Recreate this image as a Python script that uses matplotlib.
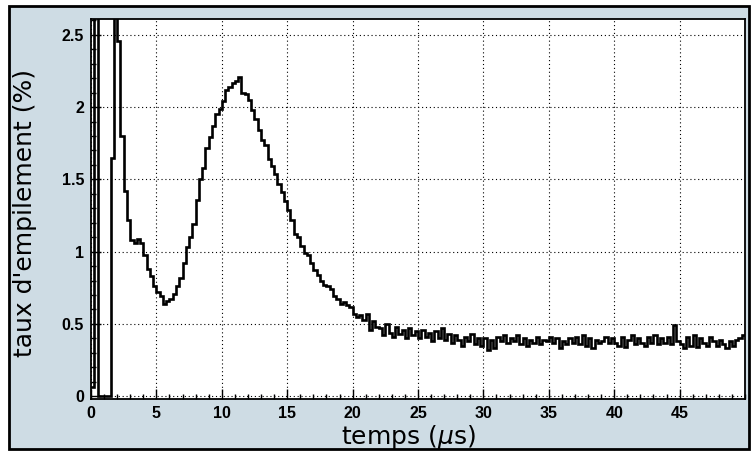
import numpy as np
import matplotlib
matplotlib.use("Agg")
import matplotlib.pyplot as plt
from matplotlib.patches import Rectangle
from matplotlib.ticker import MultipleLocator

# ---- data: pile-up rate (%) per 0.25 us bin, 0 .. 50 us ----
bin_width = 0.25
t_min = 0.0
rate_early = [0.06, 6.0, 0.0, 0.0, 0.0, 0.0, 1.65, 4.0,
              2.46, 1.80, 1.42, 1.22, 1.08, 1.06, 1.09, 1.06,
              0.98, 0.88, 0.83, 0.76, 0.72, 0.69, 0.64, 0.66,
              0.67, 0.71, 0.76, 0.82, 0.92, 1.03, 1.10, 1.19]
rate_peak = [1.36, 1.50, 1.58, 1.72, 1.79, 1.87, 1.95, 1.99,
             2.04, 2.12, 2.14, 2.17, 2.18, 2.21, 2.10, 2.09,
             2.05, 1.98, 1.92, 1.84, 1.77, 1.74, 1.64, 1.59,
             1.54, 1.47, 1.41, 1.35, 1.29, 1.22]
rate_decay = [1.12, 1.10, 1.04, 0.99, 0.98, 0.92, 0.87, 0.84,
              0.80, 0.77, 0.76, 0.74, 0.69, 0.67, 0.64, 0.65,
              0.63, 0.62, 0.57, 0.55, 0.56, 0.53, 0.57, 0.46,
              0.52, 0.48]
rate_tail = [0.47, 0.42, 0.50, 0.44, 0.41, 0.48, 0.43, 0.46, 0.40, 0.47, 0.42, 0.45,
             0.40, 0.46, 0.41, 0.44, 0.38, 0.45, 0.40, 0.47, 0.39, 0.43,
             0.37, 0.42, 0.39, 0.35, 0.41, 0.38, 0.43, 0.36, 0.40, 0.35,
             0.40, 0.32, 0.39, 0.33, 0.41, 0.38, 0.42, 0.37, 0.40, 0.38,
             0.42, 0.36, 0.40, 0.35, 0.39, 0.37, 0.41, 0.36, 0.39, 0.38,
             0.41, 0.37, 0.40, 0.33, 0.38, 0.36, 0.40, 0.37, 0.41, 0.36,
             0.42, 0.35, 0.40, 0.33, 0.39, 0.37, 0.38, 0.41, 0.37, 0.40,
             0.37, 0.35, 0.41, 0.34, 0.39, 0.42, 0.36, 0.40, 0.37, 0.35,
             0.41, 0.37, 0.42, 0.36, 0.40, 0.37, 0.41, 0.36, 0.49, 0.38,
             0.36, 0.33, 0.41, 0.35, 0.42, 0.34, 0.40, 0.37, 0.35, 0.41,
             0.38, 0.35, 0.39, 0.36, 0.33, 0.38, 0.35, 0.39, 0.40, 0.42]
x_ticks = [0, 5, 10, 15, 20, 25, 30, 35, 40, 45]
x_tick_labels = ["0", "5", "10", "15", "20", "25", "30", "35", "40", "45"]
y_ticks = [0, 0.5, 1, 1.5, 2, 2.5]
y_tick_labels = ["0", "0.5", "1", "1.5", "2", "2.5"]
x_label = "temps ($\\mu$s)"
y_label = "taux d'empilement (%)"

values = np.array(rate_early + rate_peak + rate_decay + rate_tail)
edges = t_min + bin_width * np.arange(len(values) + 1)

W, H = 752, 453
fig = plt.figure(figsize=(W / 100, H / 100), dpi=100)
fig.patch.set_facecolor("white")

# canvas frame (ROOT style)
frame = Rectangle((8.5 / W, 1 - 449 / H), (749 - 8.5) / W, (449 - 5.5) / H,
                  transform=fig.transFigure, facecolor="#cedce4",
                  edgecolor="black", linewidth=2, zorder=-5)
fig.patches.append(frame)

ax = fig.add_axes([91 / W, 1 - 399 / H, (745 - 91) / W, (399 - 19) / H])
ax.set_zorder(2)
ax.set_facecolor("white")
ax.stairs(values, edges, baseline=None, color="black", linewidth=1.9)

ax.set_xlim(0, 50)
ax.set_ylim(-0.02, 2.61)
ax.set_xticks(x_ticks)
ax.set_xticklabels(x_tick_labels)
ax.set_yticks(y_ticks)
ax.set_yticklabels(y_tick_labels)
ax.xaxis.set_minor_locator(MultipleLocator(1))
ax.yaxis.set_minor_locator(MultipleLocator(0.1))
ax.tick_params(which="both", direction="in", colors="black")
ax.tick_params(which="major", length=7, width=1.0)
ax.tick_params(which="minor", length=3.5, width=1.0)
ax.tick_params(axis="x", which="major", pad=5)
ax.tick_params(axis="y", which="major", pad=5)
for lab in ax.get_xticklabels() + ax.get_yticklabels():
    lab.set_fontfamily("Liberation Sans")
    lab.set_fontweight("bold")
    lab.set_fontsize(11.5)

ax.grid(True, which="major", color="black", linestyle=(0, (1, 2.5)), linewidth=0.8)
for s in ax.spines.values():
    s.set_linewidth(1.3)
    s.set_color("black")

fig.text(408 / W, 1 - 437 / H, x_label, ha="center", va="center",
         fontsize=18, family="DejaVu Sans", color="black", zorder=3)
fig.text(25 / W, 1 - 213 / H, y_label, ha="center", va="center",
         rotation=90, fontsize=18, family="DejaVu Sans", color="black", zorder=3)

fig.savefig("out.png", dpi=100)
